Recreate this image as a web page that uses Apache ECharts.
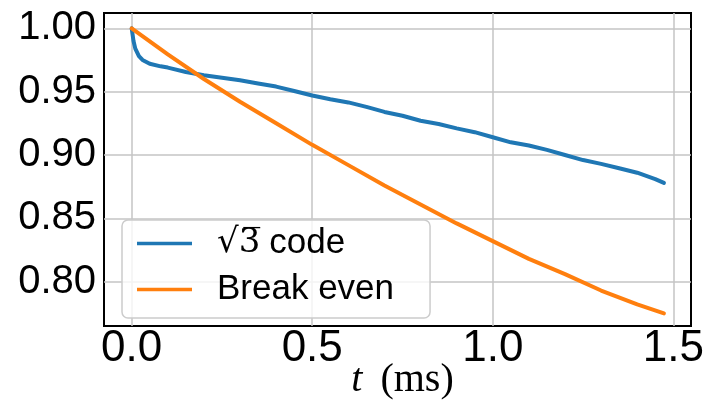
<!DOCTYPE html>
<html>
<head>
<meta charset="utf-8">
<script src="https://cdn.jsdelivr.net/npm/echarts@6/dist/echarts.min.js"></script>
<style>
html,body{margin:0;padding:0;background:#fff;}
#chart{width:707px;height:401px;}
</style>
</head>
<body>
<div id="chart"></div>
<script>
// ---- data ----
const seriesNames = ['\u221A3 code', 'Break even'];
const blueT = [0, 0.005, 0.01, 0.02, 0.03, 0.05, 0.08, 0.1, 0.15, 0.2, 0.25, 0.3, 0.35, 0.4, 0.45, 0.5, 0.55, 0.6, 0.65, 0.7, 0.75, 0.8, 0.85, 0.9, 0.95, 1.0, 1.05, 1.1, 1.15, 1.2, 1.25, 1.3, 1.35, 1.4, 1.45, 1.474];
const blueV = [1.000, 0.990, 0.984, 0.978, 0.975, 0.972, 0.970, 0.969, 0.9655, 0.963, 0.961, 0.959, 0.9565, 0.954, 0.9505, 0.947, 0.944, 0.9415, 0.938, 0.934, 0.931, 0.927, 0.9245, 0.921, 0.918, 0.914, 0.910, 0.9075, 0.904, 0.900, 0.896, 0.893, 0.8895, 0.886, 0.881, 0.878];
const orangeT = [0, 0.1, 0.2, 0.3, 0.4, 0.5, 0.6, 0.7, 0.8, 0.9, 1.0, 1.1, 1.2, 1.3, 1.4, 1.474];
const orangeV = [1.000, 0.9795, 0.960, 0.942, 0.925, 0.908, 0.892, 0.876, 0.861, 0.846, 0.832, 0.818, 0.806, 0.793, 0.782, 0.775];
const xTicks = [0.0, 0.5, 1.0, 1.5];
const yTicks = [0.80, 0.85, 0.90, 0.95, 1.00];
const xAxisTitle = ['t', '(ms)'];

// ---- chart ----
const pairs = (xs, ys) => xs.map((x, i) => [x, ys[i]]);
const isTick = (v, ticks) => ticks.some(t => Math.abs(t - v) < 1e-6);

const chart = echarts.init(document.getElementById('chart'), null, {renderer: 'canvas'});
chart.setOption({
  animation: false,
  backgroundColor: '#ffffff',
  grid: {
    left: 104, top: 13, right: 16, bottom: 75,
    outerBoundsMode: 'none', containLabel: false,
    show: true, borderColor: '#000000', borderWidth: 2, backgroundColor: 'transparent'
  },
  xAxis: {
    type: 'value',
    min: -0.0767, max: 1.549,
    minInterval: 0.5, maxInterval: 0.5,
    axisLine: {show: false},
    axisTick: {show: false},
    splitLine: {show: true, showMinLine: false, showMaxLine: false, lineStyle: {color: '#c4c4c4', width: 1.5}},
    axisLabel: {
      margin: 1,
      fontFamily: 'Liberation Sans', fontSize: 44, color: '#000',
      formatter: v => isTick(v, xTicks) ? v.toFixed(1) : ''
    },
    name: '{i|' + xAxisTitle[0] + '}{g|}{n|' + xAxisTitle[1] + '}',
    nameLocation: 'middle',
    nameGap: 34,
    nameMoveOverlap: false,
    nameTextStyle: {
      padding: [0, 0, 0, 10],
      rich: {
        i: {fontFamily: 'Liberation Serif', fontStyle: 'italic', fontSize: 40, color: '#000'},
        g: {width: 18},
        n: {fontFamily: 'Liberation Serif', fontSize: 40, color: '#000'}
      }
    }
  },
  yAxis: {
    type: 'value',
    min: 0.765, max: 1.0121,
    minInterval: 0.05, maxInterval: 0.05,
    axisLine: {show: false},
    axisTick: {show: false},
    splitLine: {show: true, showMinLine: false, showMaxLine: false, lineStyle: {color: '#c4c4c4', width: 1.5}},
    axisLabel: {
      margin: 8,
      fontFamily: 'Liberation Sans', fontSize: 40, color: '#000',
      formatter: v => isTick(v, yTicks) ? v.toFixed(2) : ''
    }
  },
  legend: {
    orient: 'vertical',
    left: 122, top: 220,
    padding: [6, 36, 11, 15],
    itemGap: 11,
    itemWidth: 55, itemHeight: 3.5,
    icon: 'rect',
    backgroundColor: 'rgba(255,255,255,0.8)',
    borderColor: '#cccccc', borderWidth: 1.5, borderRadius: 6,
    data: seriesNames,
    formatter: name => name === seriesNames[0] ? '{m|\u221A3\u0305}{s|}{t|code}' : '{t|' + name + '}',
    textStyle: {
      padding: [0, 0, 0, 20],
      lineHeight: 32,
      rich: {
        m: {fontFamily: 'DejaVu Serif', fontSize: 34, color: '#000', lineHeight: 32},
        s: {width: 9},
        t: {fontFamily: 'Liberation Sans', fontSize: 35, color: '#000', lineHeight: 32}
      }
    }
  },
  series: [
    {
      name: seriesNames[0], type: 'line', showSymbol: false, symbol: 'none',
      data: pairs(blueT, blueV),
      itemStyle: {color: '#1f77b4'},
      lineStyle: {color: '#1f77b4', width: 4, cap: 'round', join: 'round'}
    },
    {
      name: seriesNames[1], type: 'line', showSymbol: false, symbol: 'none',
      data: pairs(orangeT, orangeV),
      itemStyle: {color: '#ff7f0e'},
      lineStyle: {color: '#ff7f0e', width: 4, cap: 'round', join: 'round'}
    }
  ]
});
</script>
</body>
</html>
